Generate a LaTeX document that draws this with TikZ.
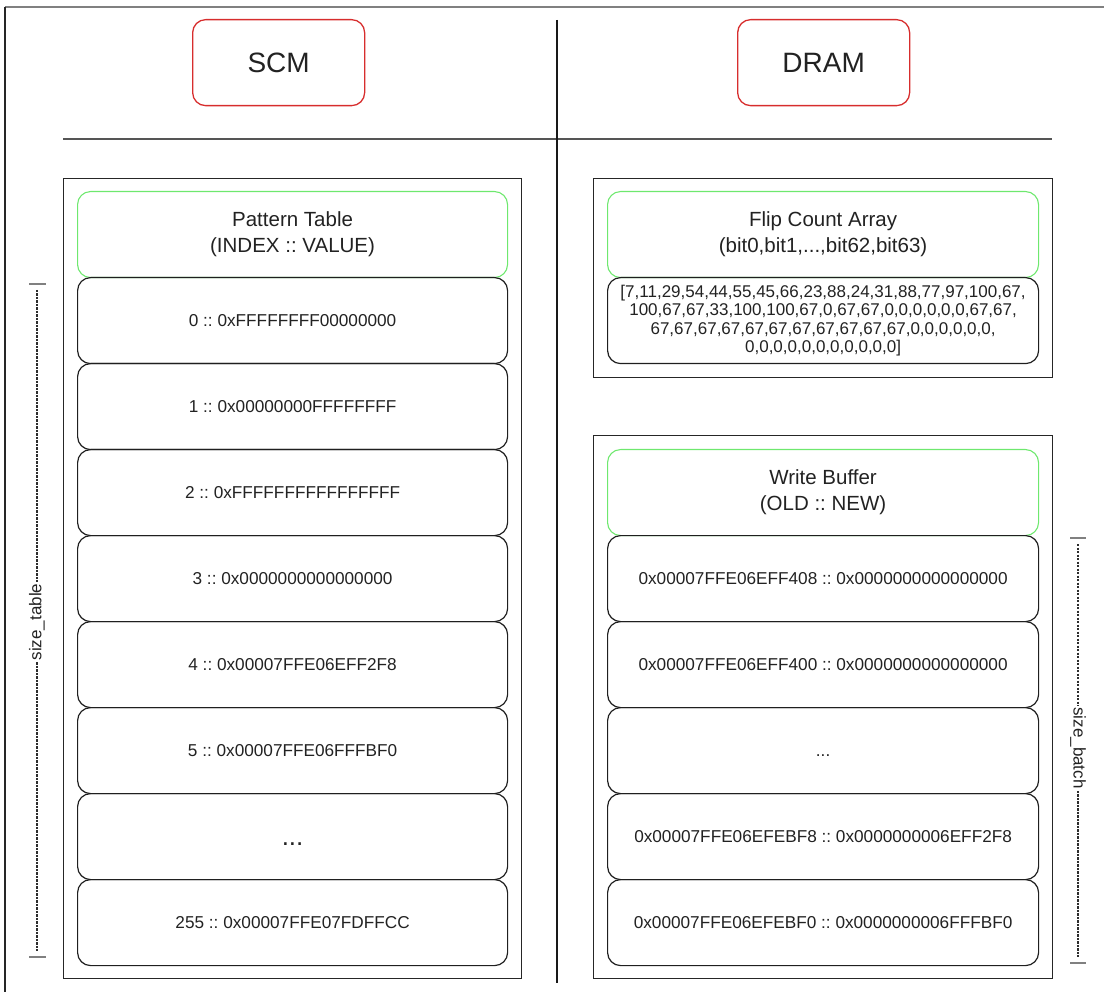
\documentclass[tikz,border=0pt]{standalone}
\usepackage{fontspec}
\setmainfont{Liberation Sans}
\frenchspacing
\definecolor{hdgreen}{RGB}{110,232,110}
\definecolor{ttred}{RGB}{215,45,45}
\definecolor{txt}{RGB}{34,34,34}
\definecolor{frameline}{RGB}{128,128,128}
\definecolor{sepline}{RGB}{85,85,85}
\definecolor{dimcol}{RGB}{45,45,45}
\begin{document}
\begin{tikzpicture}[x=1pt,y=-1pt,
  rowbox/.style={draw=black!88, line width=1.2pt, rounded corners=13pt, inner sep=0pt,
    anchor=north west, minimum width=430pt, minimum height=86pt,
    font=\fontsize{17.2}{20}\selectfont, text=txt, align=center},
  headbox/.style={rowbox, draw=hdgreen, line width=1.1pt, font=\fontsize{20.5}{26}\selectfont},
  titlebox/.style={draw=ttred, line width=1.3pt, rounded corners=13pt, inner sep=0pt,
    anchor=north west, minimum width=172pt, minimum height=86pt,
    font=\fontsize{28}{30}\selectfont, text=txt},
  container/.style={draw=black!85, line width=1.4pt, inner sep=0pt, anchor=north west},
  sizelabel/.style={font=\fontsize{17}{19}\selectfont, text=txt, inner sep=2pt},
  dimline/.style={draw=dimcol, line width=1.2pt, dash pattern=on 2.4pt off 1.1pt},
  dimbar/.style={draw=frameline, line width=1.6pt}
]
\useasboundingbox (0,0) rectangle (1104,992);
% page frame pieces
\draw[frameline, line width=2pt] (5,7) -- (1104,7);
\draw[black!85, line width=1.6pt] (5,7) -- (5,992);
% separators
\draw[sepline, line width=2pt] (63,139) -- (1052,139);
\draw[black!90, line width=1.4pt] (557,20) -- (557,983);
% titles
\node[titlebox] (scm) at (192,19) {SCM};
\node[titlebox] (dram) at (737,19) {DRAM};
% containers
\node[container, minimum width=458pt, minimum height=800pt] (leftc) at (63,178) {};
\node[container, minimum width=459pt, minimum height=199pt] (fcc) at (593,178) {};
\node[container, minimum width=459pt, minimum height=543pt] (wbc) at (593,435) {};
% pattern table
\node[headbox] (pt) at (77,191) {Pattern Table\\(INDEX :: VALUE)};
\node[rowbox] (p0) at (77,277) {0 :: 0xFFFFFFFF00000000};
\node[rowbox] (p1) at (77,363) {1 :: 0x00000000FFFFFFFF};
\node[rowbox] (p2) at (77,449) {2 :: 0xFFFFFFFFFFFFFFFF};
\node[rowbox] (p3) at (77,535) {3 :: 0x0000000000000000};
\node[rowbox] (p4) at (77,621) {4 :: 0x00007FFE06EFF2F8};
\node[rowbox] (p5) at (77,707) {5 :: 0x00007FFE06FFFBF0};
\node[rowbox, font=\fontsize{26}{28}\selectfont] (pdots) at (77,793) {\vphantom{0}...};
\node[rowbox] (p255) at (77,879) {255 :: 0x00007FFE07FDFFCC};
% flip count array
\node[headbox, minimum width=431pt] (fca) at (607,191) {Flip Count Array\\(bit0,bit1,...,bit62,bit63)};
\node[rowbox, minimum width=431pt, font=\fontsize{17}{18.3}\selectfont] (fcv) at (607,277)
  {[7,11,29,54,44,55,45,66,23,88,24,31,88,77,97,100,67,\\
   100,67,67,33,100,100,67,0,67,67,0,0,0,0,0,0,67,67,\\
   67,67,67,67,67,67,67,67,67,67,67,0,0,0,0,0,0,\\
   0,0,0,0,0,0,0,0,0,0,0]};
% write buffer
\node[headbox, minimum width=431pt] (wb) at (607,449) {Write Buffer\\(OLD :: NEW)};
\node[rowbox, minimum width=431pt] (w0) at (607,535) {0x00007FFE06EFF408 :: 0x0000000000000000};
\node[rowbox, minimum width=431pt] (w1) at (607,621) {0x00007FFE06EFF400 :: 0x0000000000000000};
\node[rowbox, minimum width=431pt] (wdots) at (607,707) {\vphantom{0}...};
\node[rowbox, minimum width=431pt] (w2) at (607,793) {0x00007FFE06EFEBF8 :: 0x0000000006EFF2F8};
\node[rowbox, minimum width=431pt] (w3) at (607,879) {0x00007FFE06EFEBF0 :: 0x0000000006FFFBF0};
% size_table dimension
\coordinate (stt) at (37,290);
\coordinate (stb) at (37,951);
\draw[dimbar] (29,284) -- (46,284);
\draw[dimbar] (29,957) -- (46,957);
\node[sizelabel, rotate=90] (st) at (37,622) {size\_table};
\draw[dimline] (stt) -- (st.east);
\draw[dimline] (st.west) -- (stb);
% size_batch dimension
\coordinate (sbt) at (1078,544);
\coordinate (sbb) at (1078,957);
\draw[dimbar] (1070,538) -- (1086,538);
\draw[dimbar] (1070,963) -- (1086,963);
\node[sizelabel, rotate=-90] (sb) at (1078,748) {size\_batch};
\draw[dimline] (sbt) -- (sb.west);
\draw[dimline] (sb.east) -- (sbb);
\end{tikzpicture}
\end{document}
